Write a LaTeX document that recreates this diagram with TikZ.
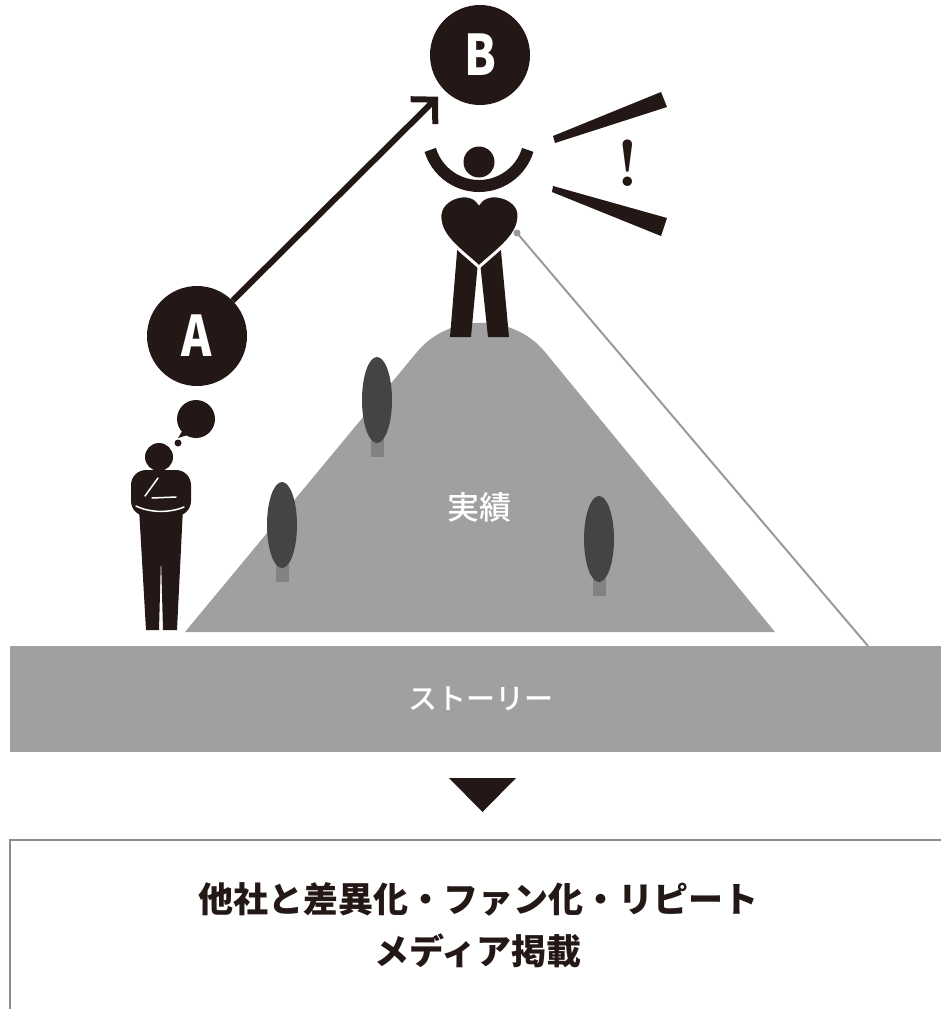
\documentclass[tikz,border=0pt]{standalone}
\usepackage{fontspec}
\newfontfamily\jpfont{Noto Sans CJK JP}
\newfontfamily\jpmedium{Noto Sans CJK JP}[UprightFont=* Medium]
\newfontfamily\jpnarrow{Noto Sans CJK JP}[FakeStretch=0.82]
\usetikzlibrary{arrows.meta}

\definecolor{ink}{HTML}{231815}
\definecolor{hillgray}{HTML}{A0A0A0}
\definecolor{crowngray}{HTML}{454343}
\definecolor{trunkgray}{HTML}{828282}
\definecolor{linegray}{HTML}{9A9A9A}
\definecolor{framegray}{HTML}{8C8C8C}

\tikzset{
  badge/.style   = {circle, fill=ink, text=white, minimum size=100pt, inner sep=0pt,
                    font=\jpnarrow\bfseries\fontsize{56}{56}\selectfont},
  pointer/.style = {-{Straight Barb[length=17pt,width=35pt]}, draw=ink, line width=6pt,
                    shorten >=9pt},
  band/.style    = {rectangle, fill=hillgray, minimum width=942pt, minimum height=106pt,
                    inner sep=0pt, text=white, font=\jpmedium\fontsize{29}{29}\selectfont},
  plate/.style   = {text=white, inner sep=0pt, font=\jpmedium\fontsize{32}{32}\selectfont},
  result/.style  = {align=center, text=ink, inner sep=0pt,
                    font=\jpfont\bfseries\fontsize{35}{52}\selectfont},
  tether/.style  = {draw=linegray, line width=2pt},
  detail/.style  = {draw=white, line width=1.5pt, line cap=round}
}

\begin{document}
\begin{tikzpicture}[x=1pt, y=-1pt]
\useasboundingbox (0,0) rectangle (941,1009);

% the hill and its trees
\fill[hillgray] (185,632) -- (417,352) .. controls (449,313) and (513,313) .. (545,352)
  -- (775,632) -- cycle;
\foreach \tx/\ty in {377/400, 282/525, 599/539} {
  \fill[trunkgray] (\tx-6.5,\ty+36) rectangle (\tx+6.5,\ty+57);
  \fill[crowngray] (\tx,\ty) ellipse [x radius=15, y radius=43];
}
\node[plate] (results) at (479,507) {実績};

\node[band] (story) at (481,699) {ストーリー};

\fill[ink] (449,778) -- (516,778) -- (482.5,812) -- cycle;
\draw[framegray, line width=1.5pt] (941,840) -- (10,840) -- (10,1009);
\node[result] (outcome) at (478,925) {他社と差異化・ファン化・リピート\\メディア掲載};

% A -> B
\begin{scope}[every node/.style={badge}]
\node (a) at (197,336) {A};
\node (b) at (480,55) {B};
\end{scope}
\draw[pointer] (a) -- (b);

% figure on the summit
\fill[ink] (458,240) -- (478,262) -- (471,337) -- (450,337) -- cycle;
\fill[ink] (500,240) -- (480,262) -- (488,337) -- (509,337) -- cycle;
\draw[ink, line width=12pt] (479,135) ++(163:51) arc [start angle=163, end angle=17, radius=51];
\fill[ink] (479,162) circle (15.5);
\filldraw[fill=ink, draw=white, line width=3pt]
  (479,267) .. controls (458,248) and (438,235) .. (440,214)
  .. controls (442,197) and (470,189) .. (479,203)
  .. controls (488,189) and (518,197) .. (519,214)
  .. controls (520,235) and (500,248) .. (479,267) -- cycle;

\coordinate (heartdot) at (517,233);
\coordinate (groundpt) at (868,646);
\draw[tether] (heartdot) -- (groundpt);
\fill[linegray] (heartdot) circle (3.5);

% shout lines
\fill[ink] (553,136) -- (661,92) -- (667,107) -- (555,143) -- cycle;
\fill[ink] (553,186) -- (667,218) -- (661,236) -- (552,192) -- cycle;
\node[text=ink, inner sep=0pt, font=\bfseries\fontsize{66}{66}\selectfont] (shout) at (628,163) {!};

% thinking figure
\fill[ink] (196,419) circle (19);
\fill[ink] (184,428) -- (178,438) -- (191,434) -- cycle;
\fill[ink] (178,443) circle (3.5);
\fill[ink] (159,457) circle (14);
\fill[ink, rounded corners=15pt] (131,470) rectangle (191,516);
\fill[ink] (139,508) -- (183,508) -- (177,630) -- (163,630) -- (161,557) -- (159,630)
  -- (146,630) -- cycle;
\draw[detail] (145,496) -- (158,478);
\draw[detail] (152,498) -- (176,497);
\draw[detail] (136,506) .. controls (150,513) and (170,513) .. (184,507);

\end{tikzpicture}
\end{document}
